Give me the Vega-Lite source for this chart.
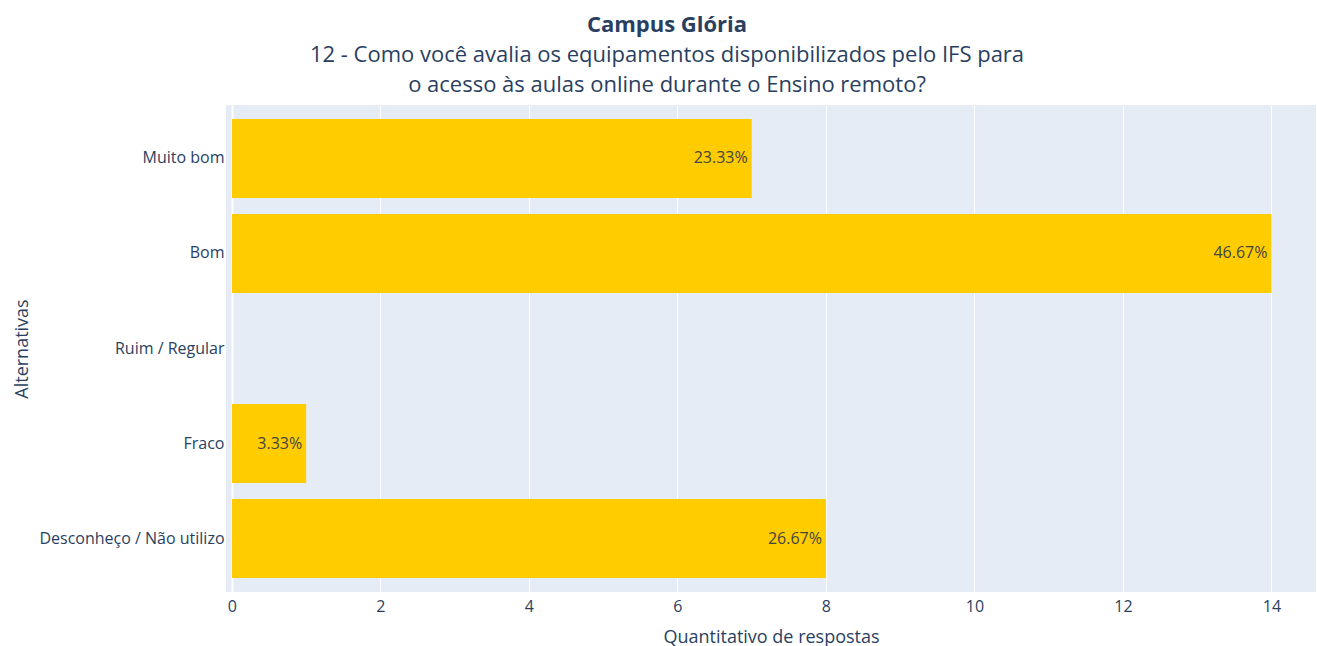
{
  "$schema": "https://vega.github.io/schema/vega-lite/v6.json",
  "autosize": {"type": "none"},
  "padding": {"left": 226, "top": 105, "right": 1, "bottom": 54},
  "width": 1090,
  "height": 487,
  "background": "white",
  "title": {
    "text": "Campus Glória",
    "subtitle": ["12 - Como você avalia os equipamentos disponibilizados pelo IFS para", "o acesso às aulas online durante o Ensino remoto?"],
    "anchor": "middle",
    "frame": "group",
    "dx": -104,
    "offset": 8,
    "font": "Open Sans",
    "fontSize": 22,
    "fontWeight": "bold",
    "color": "#2a3f5f",
    "subtitleFont": "Open Sans",
    "subtitleFontSize": 22,
    "subtitleColor": "#2a3f5f",
    "subtitleLineHeight": 30,
    "subtitlePadding": 8
  },
  "config": {
    "view": {"fill": "#E5ECF6", "stroke": null},
    "font": "Open Sans"
  },
  "data": {
    "values": [
      {"alternativa": "Muito bom", "respostas": 7, "rotulo": "23.33%"},
      {"alternativa": "Bom", "respostas": 14, "rotulo": "46.67%"},
      {"alternativa": "Ruim / Regular", "respostas": 0, "rotulo": ""},
      {"alternativa": "Fraco", "respostas": 1, "rotulo": "3.33%"},
      {"alternativa": "Desconheço / Não utilizo", "respostas": 8, "rotulo": "26.67%"}
    ]
  },
  "encoding": {
    "y": {
      "field": "alternativa",
      "type": "nominal",
      "sort": ["Muito bom", "Bom", "Ruim / Regular", "Fraco", "Desconheço / Não utilizo"],
      "scale": {"paddingInner": 0.168, "paddingOuter": 0.147},
      "axis": {
        "title": "Alternativas",
        "titleFont": "Open Sans",
        "titleFontSize": 18,
        "titleFontWeight": "normal",
        "titleColor": "#2a3f5f",
        "titlePadding": 7,
        "labelFont": "Open Sans",
        "labelFontSize": 16,
        "labelColor": "#2a3f5f",
        "labelPadding": 2,
        "labelLimit": 400,
        "ticks": false,
        "domain": false,
        "grid": false
      }
    },
    "x": {
      "field": "respostas",
      "type": "quantitative",
      "scale": {"domain": [-0.08, 14.6], "nice": false, "zero": false},
      "axis": {
        "title": "Quantitativo de respostas",
        "titleFont": "Open Sans",
        "titleFontSize": 18,
        "titleFontWeight": "normal",
        "titleColor": "#2a3f5f",
        "titlePadding": 14,
        "values": [0, 2, 4, 6, 8, 10, 12, 14],
        "labelFont": "Open Sans",
        "labelFontSize": 16,
        "labelColor": "#2a3f5f",
        "labelPadding": 6,
        "ticks": false,
        "domain": false,
        "grid": true,
        "gridColor": "white",
        "gridWidth": {"condition": {"test": "datum.value === 0", "value": 2}, "value": 1}
      }
    }
  },
  "layer": [
    {
      "mark": {"type": "bar", "color": "#FFCC00"},
      "encoding": {"x2": {"datum": 0}}
    },
    {
      "mark": {"type": "text", "align": "right", "baseline": "middle", "dx": -4, "fontSize": 16, "font": "Open Sans", "color": "#444444"},
      "encoding": {"text": {"field": "rotulo"}}
    }
  ]
}
